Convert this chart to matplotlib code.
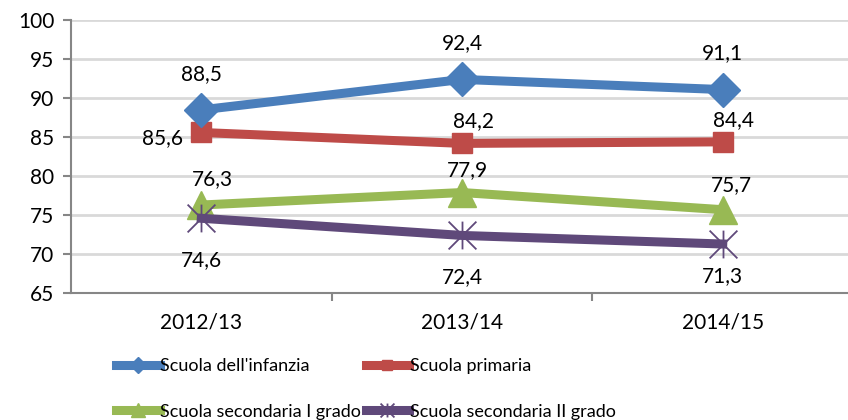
import matplotlib
matplotlib.use("Agg")
import matplotlib.pyplot as plt
from matplotlib.path import Path

plt.rcParams['font.family'] = ['Lato', 'DejaVu Sans']

# dati
anni = ['2012/13', '2013/14', '2014/15']
infanzia = [88.5, 92.4, 91.1]
primaria = [85.6, 84.2, 84.4]
sec_primo = [76.3, 77.9, 75.7]
sec_secondo = [74.6, 72.4, 71.3]
nomi = ["Scuola dell'infanzia", "Scuola primaria",
        "Scuola secondaria I grado", "Scuola secondaria II grado"]
yticks = [65, 70, 75, 80, 85, 90, 95, 100]

# marker "stella" di Excel: X con linea verticale
stella = Path([(-1, -1), (1, 1), (-1, 1), (1, -1), (0, -1), (0, 1)],
              [Path.MOVETO, Path.LINETO, Path.MOVETO, Path.LINETO, Path.MOVETO, Path.LINETO])

fig = plt.figure(figsize=(8.48, 4.2), dpi=100)
ax = fig.add_axes([0.0837, 0.302, 0.9223, 0.650])

x = list(range(len(anni)))
lw = 6.5
l1, = ax.plot(x, infanzia, color='#4A7EBB', lw=lw, marker='D', ms=17, zorder=5)
l2, = ax.plot(x, primaria, color='#BE4B48', lw=lw, marker='s', ms=14, zorder=4)
l3, = ax.plot(x, sec_primo, color='#98B954', lw=lw, marker='^', ms=20, zorder=3)
l4, = ax.plot(x, sec_secondo, color='#5F497A', lw=lw, marker=stella, ms=20, mew=1.3, zorder=6)

def fmt(v):
    return ('%.1f' % v).replace('.', ',')

fs = 15
# spostamenti delle etichette (punti tipografici)
off_inf = [(0, 26), (0, 26), (0, 26)]
off_pri = [(-28, -4), (8, 16), (8, 16)]
off_sp = [(8, 19), (4, 16), (6, 18)]
off_ss = [(0, -30), (0, -30), (0, -23)]
for serie, offs in [(infanzia, off_inf), (primaria, off_pri), (sec_primo, off_sp), (sec_secondo, off_ss)]:
    for i, v in enumerate(serie):
        ax.annotate(fmt(v), (i, v), xytext=offs[i], textcoords='offset points',
                    ha='center', va='center', fontsize=fs, zorder=10)

ax.set_xlim(-0.5, 2.5)
ax.set_ylim(65, 100)
ax.set_yticks(yticks)
ax.set_xticks(x)
ax.set_xticklabels(anni)
ax.set_xticks([0.5, 1.5], minor=True)
ax.tick_params(axis='x', which='major', length=0, pad=14, labelsize=fs)
ax.tick_params(axis='x', which='minor', length=6, width=1.5, color='#868686', direction='out')
ax.tick_params(axis='y', length=6, width=1.5, color='#868686', pad=6, labelsize=fs)
ax.grid(axis='y', color='#D9D9D9', lw=2)
ax.set_axisbelow(True)
for s in ['top', 'right']:
    ax.spines[s].set_visible(False)
for s in ['left', 'bottom']:
    ax.spines[s].set_color('#868686')
    ax.spines[s].set_linewidth(1.5)

# legenda in due righe (ordine per righe)
fig.legend([l1, l3, l2, l4], [nomi[0], nomi[2], nomi[1], nomi[3]], ncol=2, loc='upper left',
           bbox_to_anchor=(0.137, 0.148), frameon=False, fontsize=13, handlelength=2.4,
           handletextpad=0.05, columnspacing=0.25, labelspacing=1.65, markerscale=0.5,
           borderaxespad=0, borderpad=0)

fig.savefig('out.png', dpi=100)
